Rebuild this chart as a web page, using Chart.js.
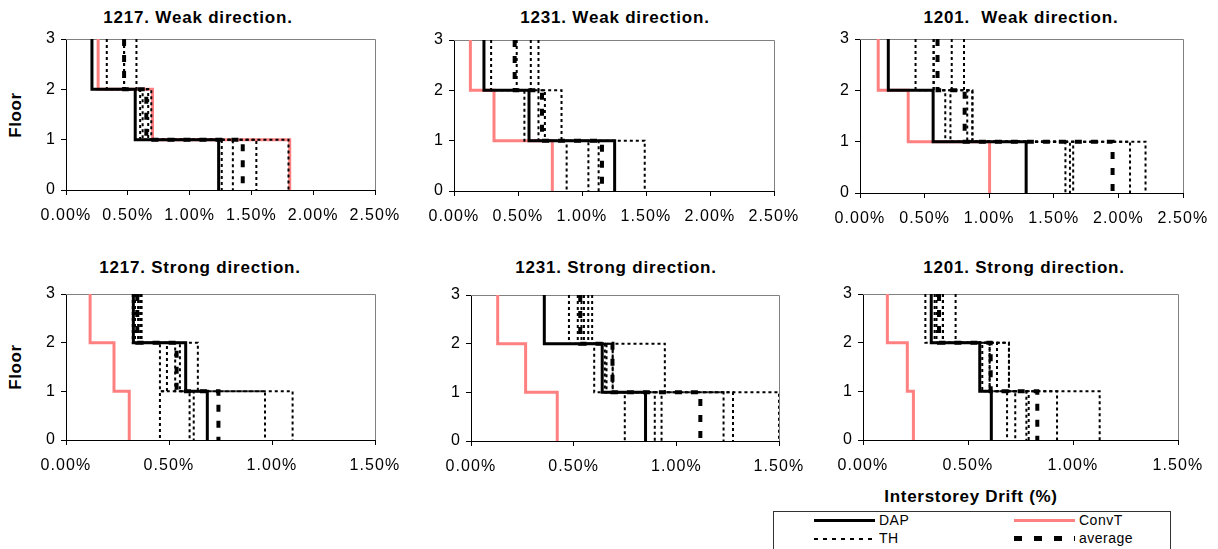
<!DOCTYPE html>
<html>
<head>
<meta charset="utf-8">
<script src="https://cdn.jsdelivr.net/npm/chart.js@4"></script>
<style>
    body {
        margin: 0;
        width: 1218px;
        height: 549px;
        overflow: hidden;
        background: #fff;
        position: relative;
        font-family: "Liberation Sans", Arial, sans-serif;
        color: #000;
    }
    .panel { position: absolute; }
    .lbl {
        position: absolute;
        transform: translate(-50%, -50%);
        white-space: pre;
        font-weight: bold;
    }
    .title { font-size: 17px; letter-spacing: 0.8px; }
    .floor { font-size: 17px; letter-spacing: 0.6px; transform: translate(-50%, -50%) rotate(-90deg); }
    .xtitle { font-size: 17px; letter-spacing: 0.7px; }
    #legend {
        position: absolute;
        left: 773px;
        top: 511px;
        width: 398px;
        height: 60px;
        border: 1px solid #333;
        box-sizing: border-box;
    }
    .item { position: absolute; height: 16px; font-size: 14px; letter-spacing: 0.5px; line-height: 16px; }
    .sample { position: absolute; left: 0; width: 61px; }
    .item span { position: absolute; left: 65px; }
</style>
</head>
<body>

<div class="lbl title" style="left:198px;top:18px">1217. Weak direction.</div>
<div class="lbl title" style="left:615px;top:18px">1231. Weak direction.</div>
<div class="lbl title" style="left:1021px;top:18px">1201.  Weak direction.</div>
<div class="lbl title" style="left:200px;top:268px">1217. Strong direction.</div>
<div class="lbl title" style="left:616px;top:268px">1231. Strong direction.</div>
<div class="lbl title" style="left:1024px;top:268px">1201. Strong direction.</div>
<div class="lbl floor" style="left:16px;top:115px">Floor</div>
<div class="lbl floor" style="left:16px;top:367px">Floor</div>
<div class="lbl xtitle" style="left:971px;top:497px">Interstorey Drift (%)</div>

<div id="legend">
    <div class="item" style="left:40px;top:0px">
        <div class="sample" style="top:7px;height:3px;background:#000"></div><span>DAP</span>
    </div>
    <div class="item" style="left:240px;top:0px">
        <div class="sample" style="top:7px;height:3px;background:#ff8080"></div><span>ConvT</span>
    </div>
    <div class="item" style="left:40px;top:18px">
        <div class="sample" style="top:8px;height:2px;background:repeating-linear-gradient(90deg,#000 0 4px,transparent 4px 9px)"></div><span>TH</span>
    </div>
    <div class="item" style="left:240px;top:18px">
        <div class="sample" style="top:6px;height:5px;background:repeating-linear-gradient(90deg,#000 0 8px,transparent 8px 20px)"></div><span>average</span>
    </div>
</div>

<script>
// floor levels and x tick values
const floors = [0, 1, 2, 3];
const weakTicks = [0, 0.5, 1, 1.5, 2, 2.5];
const strongTicks = [0, 0.5, 1, 1.5];

// interstorey drift (%) per storey: [1st, 2nd, 3rd]
const dap1217W = [1.235, 0.56, 0.21];
const conv1217W = [1.81, 0.70, 0.26];
const avg1217W = [1.43, 0.65, 0.47];
const th1217W = [[1.26, 0.62, 0.33], [1.35, 0.60, 0.47], [1.54, 0.69, 0.57], [1.80, 0.665, 0.47]];

const dap1231W = [1.255, 0.586, 0.234];
const conv1231W = [0.768, 0.3125, 0.128];
const avg1231W = [1.156, 0.6875, 0.474];
const th1231W = [[0.88, 0.55, 0.29], [1.05, 0.66, 0.49], [1.13, 0.71, 0.60], [1.49, 0.84, 0.66]];

const dap1201W = [1.286, 0.566, 0.219];
const conv1201W = [1.003, 0.373, 0.141];
const avg1201W = [1.955, 0.81, 0.60];
const th1201W = [[1.59, 0.66, 0.43], [1.625, 0.87, 0.57], [1.65, 0.83, 0.71], [2.09, 0.70, 0.57], [2.21, 0.87, 0.805]];

const dap1217S = [0.686, 0.581, 0.327];
const conv1217S = [0.307, 0.233, 0.117];
const avg1217S = [0.74, 0.537, 0.346];
const th1217S = [[0.456, 0.49, 0.335], [0.60, 0.53, 0.324], [0.62, 0.553, 0.36], [0.966, 0.64, 0.367], [1.10, 0.456, 0.35]];

const dap1231S = [0.85, 0.639, 0.357];
const conv1231S = [0.42, 0.266, 0.13];
const avg1231S = [1.117, 0.689, 0.532];
const th1231S = [[0.749, 0.60, 0.477], [0.895, 0.652, 0.538], [0.928, 0.69, 0.571], [1.23, 0.944, 0.59], [1.276, 0.69, 0.55], [1.50, 0.66, 0.52]];

const dap1201S = [0.611, 0.556, 0.325];
const conv1201S = [0.24, 0.211, 0.116];
const avg1201S = [0.83, 0.608, 0.362];
const th1201S = [[0.686, 0.568, 0.297], [0.725, 0.603, 0.341], [0.778, 0.638, 0.381], [0.789, 0.695, 0.441], [0.924, 0.603, 0.35], [1.127, 0.695, 0.38]];

// chart area of each panel: left, top, right, bottom
const panels = [
    { area: [66, 39, 375, 190], ticks: weakTicks, dap: dap1217W, conv: conv1217W, avg: avg1217W, th: th1217W },
    { area: [454, 40, 774, 191], ticks: weakTicks, dap: dap1231W, conv: conv1231W, avg: avg1231W, th: th1231W },
    { area: [860, 39, 1183, 193], ticks: weakTicks, dap: dap1201W, conv: conv1201W, avg: avg1201W, th: th1201W },
    { area: [66, 294, 375, 440], ticks: strongTicks, dap: dap1217S, conv: conv1217S, avg: avg1217S, th: th1217S },
    { area: [471, 295, 779, 441], ticks: strongTicks, dap: dap1231S, conv: conv1231S, avg: avg1231S, th: th1231S },
    { area: [863, 294, 1178, 440], ticks: strongTicks, dap: dap1201S, conv: conv1201S, avg: avg1201S, th: th1201S },
];

// step line: storey drift held constant between floors
function stairs(d) {
    const pts = [];
    for (let f = 3; f >= 1; f--) {
        pts.push({ x: d[f - 1], y: floors[f] });
        pts.push({ x: d[f - 1], y: floors[f - 1] });
    }
    return pts;
}

function line(d, color, width, dash) {
    return {
        data: stairs(d),
        showLine: true,
        borderColor: color,
        backgroundColor: color,
        borderWidth: width,
        borderDash: dash,
        pointRadius: 0,
        pointHoverRadius: 0,
    };
}

// gray frame on top and right of plot area
const frame = {
    id: "frame",
    beforeDatasetsDraw(chart) {
        const { ctx, chartArea: a } = chart;
        ctx.save();
        ctx.strokeStyle = "#808080";
        ctx.lineWidth = 1;
        ctx.beginPath();
        ctx.moveTo(a.left, a.top + 0.5);
        ctx.lineTo(a.right + 0.5, a.top + 0.5);
        ctx.lineTo(a.right + 0.5, a.bottom);
        ctx.stroke();
        ctx.restore();
    },
};

// wider tick text like the original
const spacing = {
    id: "spacing",
    beforeLayout(chart) { chart.ctx.letterSpacing = "1.1px"; },
    beforeDraw(chart) { chart.ctx.letterSpacing = "1.1px"; },
};

const tickFont = { family: "'Liberation Sans', Arial, sans-serif", size: 16 };

panels.forEach((p) => {
    const [l, t, r, b] = p.area;
    const w = r - l + 70;
    const h = b - t + 44;
    const box = document.createElement("div");
    box.className = "panel";
    box.style.left = l - 40 + "px";
    box.style.top = t - 10 + "px";
    const cv = document.createElement("canvas");
    cv.width = w;
    cv.height = h;
    cv.style.width = w + "px";
    cv.style.height = h + "px";
    box.appendChild(cv);
    document.body.appendChild(box);

    new Chart(cv, {
        type: "scatter",
        data: {
            datasets: [
                line(p.avg, "#000", 4, [7, 9]),
                ...p.th.map((d) => line(d, "#000", 2, [3, 3])),
                line(p.dap, "#000", 3, []),
                line(p.conv, "#ff8080", 3, []),
            ],
        },
        options: {
            responsive: false,
            animation: false,
            layout: { padding: { top: 10, right: 30, left: 0, bottom: 0 } },
            plugins: {
                legend: { display: false },
                tooltip: { enabled: false },
            },
            scales: {
                x: {
                    type: "linear",
                    min: 0,
                    max: p.ticks[p.ticks.length - 1],
                    afterBuildTicks: (s) => { s.ticks = p.ticks.map((v) => ({ value: v })); },
                    ticks: {
                        callback: (v) => v.toFixed(2) + "%",
                        color: "#000",
                        font: tickFont,
                        padding: 11,
                        maxRotation: 0,
                        autoSkip: false,
                    },
                    grid: { drawOnChartArea: false, tickLength: 5, color: "#000" },
                    border: { color: "#000" },
                    afterFit: (s) => { s.height = 34; s.paddingLeft = 0; s.paddingRight = 0; },
                },
                y: {
                    type: "linear",
                    min: 0,
                    max: 3,
                    afterBuildTicks: (s) => { s.ticks = floors.map((v) => ({ value: v })); },
                    ticks: { color: "#000", font: tickFont, padding: 5 },
                    grid: { drawOnChartArea: false, tickLength: 5, color: "#000" },
                    border: { color: "#000" },
                    afterFit: (s) => { s.width = 40; s.paddingTop = 0; s.paddingBottom = 0; },
                },
            },
        },
        plugins: [frame, spacing],
    });
});
</script>
</body>
</html>
